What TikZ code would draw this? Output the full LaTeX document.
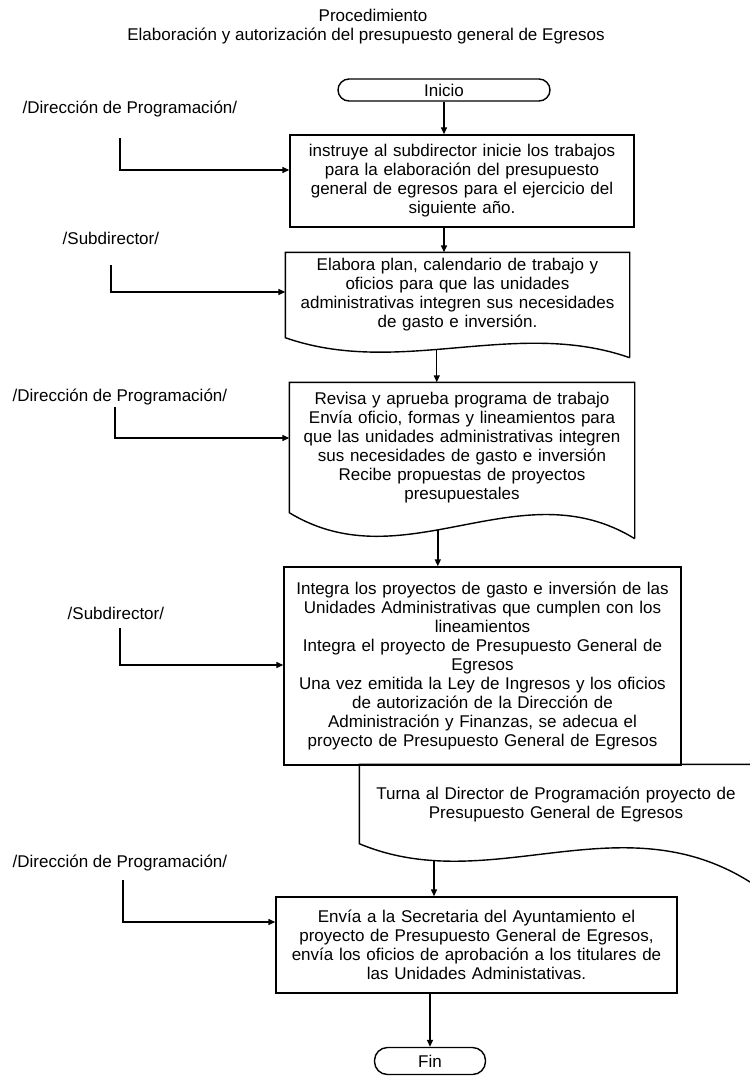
\documentclass[tikz,border=0pt]{standalone}
\usepackage{fontspec}
\setmainfont{Liberation Sans}
\usetikzlibrary{arrows.meta,calc}

\begin{document}
\begin{tikzpicture}[x=1pt, y=-1pt, >={Triangle[length=7pt, width=6pt]}, line width=1.4pt,
    every node/.style={font=\fontsize{17}{19}\selectfont},
    terminal/.style={draw, rounded corners=11pt, minimum height=22pt, inner sep=1pt},
    proceso/.style={draw, align=center, inner sep=2pt},
    documento/.style={align=center, inner sep=2pt},
    actor/.style={anchor=west, inner sep=0pt},
    flecha/.style={->}]
    \useasboundingbox (0,0) rectangle (749,1078);

    % Titulo
    \node (tit1) at (373,15) {Procedimiento};
    \node (tit2) at (366,36) {Elaboración y autorización del presupuesto general de Egresos};

    % Inicio
    \node[terminal, minimum width=212pt] (inicio) at (444,90) {Inicio};

    % Paso 1
    \node[proceso, minimum width=344pt, minimum height=92pt, text width=340pt] (b1) at (462,181)
        {instruye al subdirector inicie los trabajos\\ para la elaboración del presupuesto\\ general de egresos para el ejercicio del\\ siguiente año.};
    \node[actor] (r1) at (22,109) {/Dirección de Programación/};
    \coordinate (c1a) at (120,138);
    \coordinate (c1b) at (120,170);
    \draw[flecha] (c1a) -- (c1b) -- (c1b -| b1.west);
    \draw[flecha] (inicio) -- (b1.north -| inicio);

    % Paso 2 (documento)
    \node[documento, minimum width=343pt, minimum height=84pt, text width=339pt] (b2) at (457.5,295)
        {Elabora plan, calendario de trabajo y\\ oficios para que las unidades\\ administrativas integren sus necesidades\\ de gasto e inversión.};
    \draw ($(b2.south east)+(0,20)$) -- (b2.north east) -- (b2.north west) -- (b2.south west)
        .. controls +(114,40) and +(-114,-40) .. ($(b2.south east)+(0,20)$) coordinate[pos=0.44] (w2);
    \node[actor] (r2) at (62,238) {/Subdirector/};
    \coordinate (c2a) at (111,265);
    \coordinate (c2b) at (111,292);
    \draw[flecha] (c2a) -- (c2b) -- (c2b -| b2.west);
    \draw[flecha] (b1.south -| inicio) -- (b2.north -| inicio);

    % Paso 3 (documento)
    \node[documento, minimum width=344pt, minimum height=129pt, text width=340pt] (b3) at (462,447.5)
        {Revisa y aprueba programa de trabajo\\ Envía oficio, formas y lineamientos para\\ que las unidades administrativas integren\\ sus necesidades de gasto e inversión\\ Recibe propuestas de proyectos\\ presupuestales};
    \draw ($(b3.south east)+(0,26)$) -- (b3.north east) -- (b3.north west) -- (b3.south west)
        .. controls +(115,70) and +(-115,-71) .. ($(b3.south east)+(0,26)$) coordinate[pos=0.43] (w3);
    \node[actor] (r3) at (12,397) {/Dirección de Programación/};
    \coordinate (c3a) at (115,407);
    \coordinate (c3b) at (115,438);
    \draw[flecha] (c3a) -- (c3b) -- (c3b -| b3.west);
    \draw[flecha] (w2) -- (b3.north -| w2);

    % Paso 4
    \node[proceso, minimum width=397pt, minimum height=198pt, text width=393pt] (b4) at (482.5,666)
        {Integra los proyectos de gasto e inversión de las\\ Unidades Administrativas que cumplen con los\\ lineamientos\\ Integra el proyecto de Presupuesto General de\\ Egresos\\ Una vez emitida la Ley de Ingresos y los oficios\\ de autorización de la Dirección de\\ Administración y Finanzas, se adecua el\\ proyecto de Presupuesto General de Egresos};
    \node[actor] (r4) at (67,613) {/Subdirector/};
    \coordinate (c4a) at (120,628);
    \coordinate (c4b) at (120,665);
    \draw[flecha] (c4a) -- (c4b) -- (c4b -| b4.west);
    \draw[flecha] (w3) -- (b4.north -| w3);

    % Paso 5 (documento, sale del margen)
    \node[documento, minimum width=392pt, minimum height=78pt, text width=388pt] (b5) at (556,804)
        {Turna al Director de Programación proyecto de\\ Presupuesto General de Egresos};
    \draw ($(b5.south east)+(0,40)$) -- (b5.north east) -- (b5.north west) -- (b5.south west)
        .. controls +(131,55) and +(-131,-85) .. ($(b5.south east)+(0,40)$) coordinate[pos=0.19] (w5);

    % Paso 6
    \node[proceso, minimum width=401pt, minimum height=96pt, text width=397pt] (b6) at (476.5,945)
        {Envía a la Secretaria del Ayuntamiento el\\ proyecto de Presupuesto General de Egresos,\\ envía los oficios de aprobación a los titulares de\\ las Unidades Administativas.};
    \node[actor] (r5) at (12,863) {/Dirección de Programación/};
    \coordinate (c5a) at (123,880);
    \coordinate (c5b) at (123,922);
    \draw[flecha] (c5a) -- (c5b) -- (c5b -| b6.west);
    \draw[flecha] (w5) -- (b6.north -| w5);

    % Fin
    \node[terminal, minimum width=111pt, minimum height=27pt, rounded corners=13pt] (fin) at (430,1061) {Fin};
    \draw[flecha] (b6.south -| fin) -- (fin);
\end{tikzpicture}
\end{document}
